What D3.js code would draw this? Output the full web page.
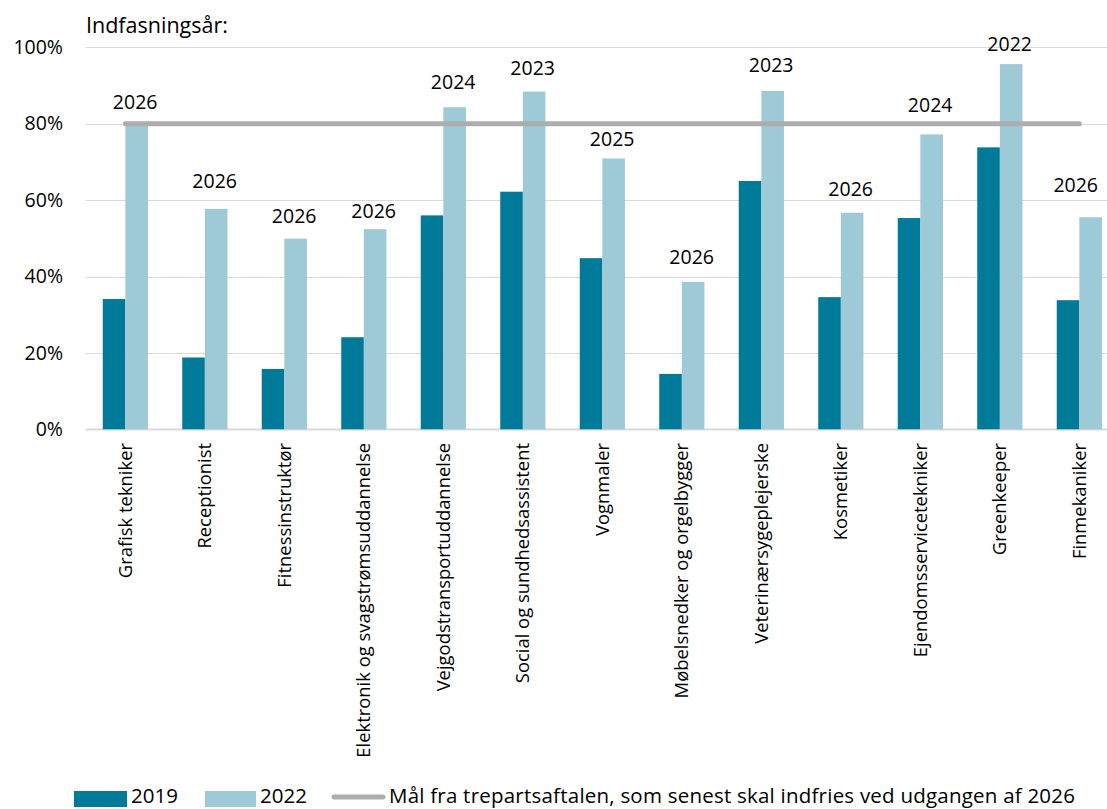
<!DOCTYPE html>
<html><head><meta charset="utf-8">
<script src="https://cdn.jsdelivr.net/npm/d3@7"></script>
<style>
html,body{margin:0;padding:0;background:#fff;}
svg{display:block;font-family:"Open Sans",sans-serif;}
</style></head>
<body>
<svg id="chart" width="1107" height="809"></svg>
<script>
const categories = ["Grafisk tekniker","Receptionist","Fitnessinstruktør","Elektronik og svagstrømsuddannelse","Vejgodstransportuddannelse","Social og sundhedsassistent","Vognmaler","Møbelsnedker og orgelbygger","Veterinærsygeplejerske","Kosmetiker","Ejendomsservicetekniker","Greenkeeper","Finmekaniker"];
const values2019 = [34.1,18.8,15.8,24.1,56.0,62.2,44.8,14.5,65.0,34.6,55.3,73.8,33.8];
const values2022 = [80.0,57.7,49.9,52.4,84.3,88.4,70.9,38.6,88.6,56.7,77.2,95.6,55.5];
const phaseInYears = ["2026","2026","2026","2026","2024","2023","2025","2026","2023","2026","2024","2022","2026"];
// value at which each "Indfasningsår" label sits (label series)
const labelValues = [83.8,63.2,54.1,55.2,89.1,92.7,74.2,43.3,93.6,61.2,83.1,99.0,62.2];
const target = 80;
const yTicks = [0,20,40,60,80,100];
const seriesNames = ["2019","2022"];
const targetLabel = "Mål fra trepartsaftalen, som senest skal indfries ved udgangen af 2026";
const title = "Indfasningsår:";

const W = 1107;
const svg = d3.select("#chart");
const colDark = "#007A99", colLight = "#9DCAD6", colLine = "#ADADAD", colGrid = "#D9D9D9";
const left = 85.6, band = 79.5;
const x = d3.scaleBand().domain(categories).range([left, left + band*categories.length]).padding(0);
const y = d3.scaleLinear().domain([0,100]).range([429.3, 47.3]);
const barW = 22.6;
const fs = 19.5;

// gridlines
svg.append("g").selectAll("line").data(yTicks).join("line")
  .attr("x1", left).attr("x2", left + band*categories.length)
  .attr("y1", d=>Math.round(y(d))+0.5).attr("y2", d=>Math.round(y(d))+0.5)
  .attr("stroke", colGrid).attr("stroke-width", d=>d===0?2:1);

// y axis labels
const yAxis = d3.axisLeft(y).tickValues(yTicks).tickFormat(d=>d+"%").tickSize(0).tickPadding(0);
const ya = svg.append("g").attr("transform","translate(63,0)").call(yAxis);
ya.select(".domain").remove();
ya.selectAll("text").attr("font-size", fs).attr("fill","#000").attr("font-family","'Open Sans',sans-serif");

// bars
const g = svg.append("g");
g.selectAll("rect.d").data(categories).join("rect").attr("class","d")
  .attr("x", d=>x(d)+band/2-barW).attr("width", barW)
  .attr("y", (d,i)=>y(values2019[i])).attr("height",(d,i)=>y(0)-y(values2019[i]))
  .attr("fill", colDark);
g.selectAll("rect.l").data(categories).join("rect").attr("class","l")
  .attr("x", d=>x(d)+band/2).attr("width", barW)
  .attr("y", (d,i)=>y(values2022[i])).attr("height",(d,i)=>y(0)-y(values2022[i]))
  .attr("fill", colLight);

// target line
svg.append("line")
  .attr("x1", x(categories[0])+band/2).attr("x2", x(categories[categories.length-1])+band/2)
  .attr("y1", y(target)).attr("y2", y(target))
  .attr("stroke", colLine).attr("stroke-width", 5).attr("stroke-linecap","round");

// year labels
svg.append("g").selectAll("text").data(categories).join("text")
  .attr("y", (d,i)=>y(labelValues[i]))
  .attr("text-anchor","middle").attr("font-size", fs).attr("fill","#000")
  .text((d,i)=>phaseInYears[i])
  .each(function(d){
    const w = this.getComputedTextLength();
    let cx = x(d)+band/2+barW/2 - 1.5;
    cx = Math.min(cx, W - 9 - w/2);
    d3.select(this).attr("x", cx);
  });

// category labels
svg.append("g").selectAll("text").data(categories).join("text")
  .attr("transform", d=>`translate(${x(d)+band/2},443) rotate(-90)`)
  .attr("text-anchor","end").attr("dy","0.35em")
  .attr("font-size", 18.4).attr("fill","#000")
  .text(d=>d);

// title
svg.append("text").attr("x",86).attr("y",33).attr("font-size",21.5).attr("fill","#000").text(title);

// legend
const lfs = 20.5, lb = 802.5;
const lg = svg.append("g");
lg.append("rect").attr("x",74).attr("y",791).attr("width",53).attr("height",16).attr("fill",colDark);
lg.append("text").attr("x",131).attr("y",lb).attr("font-size",lfs).attr("fill","#000").text(seriesNames[0]);
lg.append("rect").attr("x",205).attr("y",791).attr("width",51).attr("height",16).attr("fill",colLight);
lg.append("text").attr("x",260).attr("y",lb).attr("font-size",lfs).attr("fill","#000").text(seriesNames[1]);
lg.append("line").attr("x1",334).attr("x2",383).attr("y1",797).attr("y2",797)
  .attr("stroke",colLine).attr("stroke-width",5).attr("stroke-linecap","round");
lg.append("text").attr("x",389).attr("y",lb).attr("font-size",lfs).attr("fill","#000")
  .attr("textLength",686).attr("lengthAdjust","spacing").text(targetLabel);
</script>
</body></html>
